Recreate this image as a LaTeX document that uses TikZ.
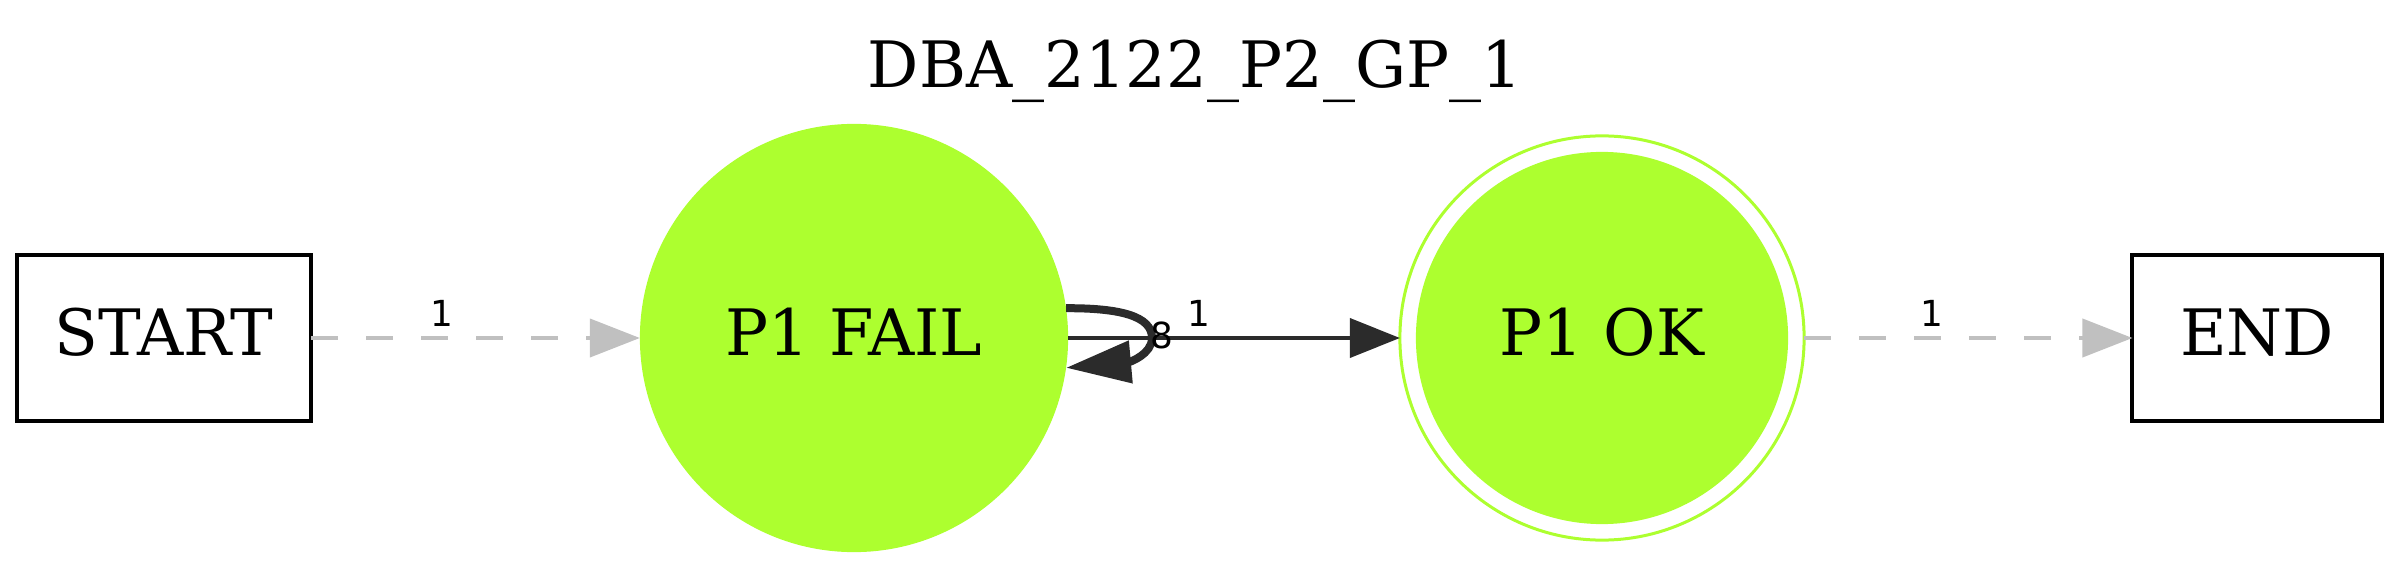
\documentclass[tikz,border=0pt]{standalone}
\usepackage{fontspec}
\setmainfont{DejaVu Serif}
\newfontfamily\lblfont{DejaVu Sans}
\usetikzlibrary{arrows.meta}
\definecolor{gy}{HTML}{ADFF2F}
\definecolor{dk}{HTML}{2B2B2B}
\definecolor{lg}{HTML}{C0C0C0}
\begin{document}
\begin{tikzpicture}[x=0.01cm,y=-0.01cm,
  nodetext/.style={font=\fontsize{18.2}{22}\selectfont, text height=0.47cm, text depth=0.12cm},
  boxnode/.style={nodetext, draw=black, line width=0.04cm, minimum width=2.94cm, minimum height=1.65cm, inner sep=0pt, outer sep=0pt},
  fillcirc/.style={circle, fill=gy, inner sep=0pt, outer sep=0pt, nodetext},
  lbl/.style={font=\lblfont\fontsize{10.2}{12}\selectfont, inner sep=0pt},
  grayedge/.style={draw=lg, line width=0.04cm, dash pattern=on 0.27cm off 0.28cm, -{Triangle[length=0.5cm,width=0.38cm]}},
  darkedge/.style={draw=dk, line width=0.04cm, -{Triangle[length=0.5cm,width=0.39cm]}},
  loopedge/.style={draw=dk, line width=0.08cm, -{Triangle[length=0.65cm,width=0.41cm]}}
]
\useasboundingbox (0,0) rectangle (2400,570);
\node[nodetext, anchor=base, text height=, text depth=] (title) at (1195,88) {DBA\_2122\_P2\_GP\_1};
\node[boxnode] (start) at (164,338) {START};
\node[boxnode, minimum width=2.49cm] (end) at (2257,338) {END};
\node[fillcirc, minimum size=4.28cm] (fail) at (854,338) {P1 FAIL};
\node[circle, draw=gy, line width=0.03cm, minimum size=4.04cm, inner sep=0pt, outer sep=0pt] (okring) at (1602,338) {};
\node[fillcirc, minimum size=3.72cm] (ok) at (1602,338) {P1 OK};
\draw[grayedge] (start.east) -- (fail.west);
\draw[darkedge] (fail.east) -- (okring.west);
\draw[grayedge] (okring.east) -- (end.west);
\draw[loopedge] (fail.8.3) .. controls (1120,308) and (1152,316) .. (1152,338) .. controls (1152,354) and (1130,362) .. (fail.-8.1);
\node[lbl] (l1) at (442,313) {1};
\node[lbl] (l2) at (1199,313) {1};
\node[lbl] (l3) at (1162,335) {8};
\node[lbl] (l4) at (1932,313) {1};
\end{tikzpicture}
\end{document}
